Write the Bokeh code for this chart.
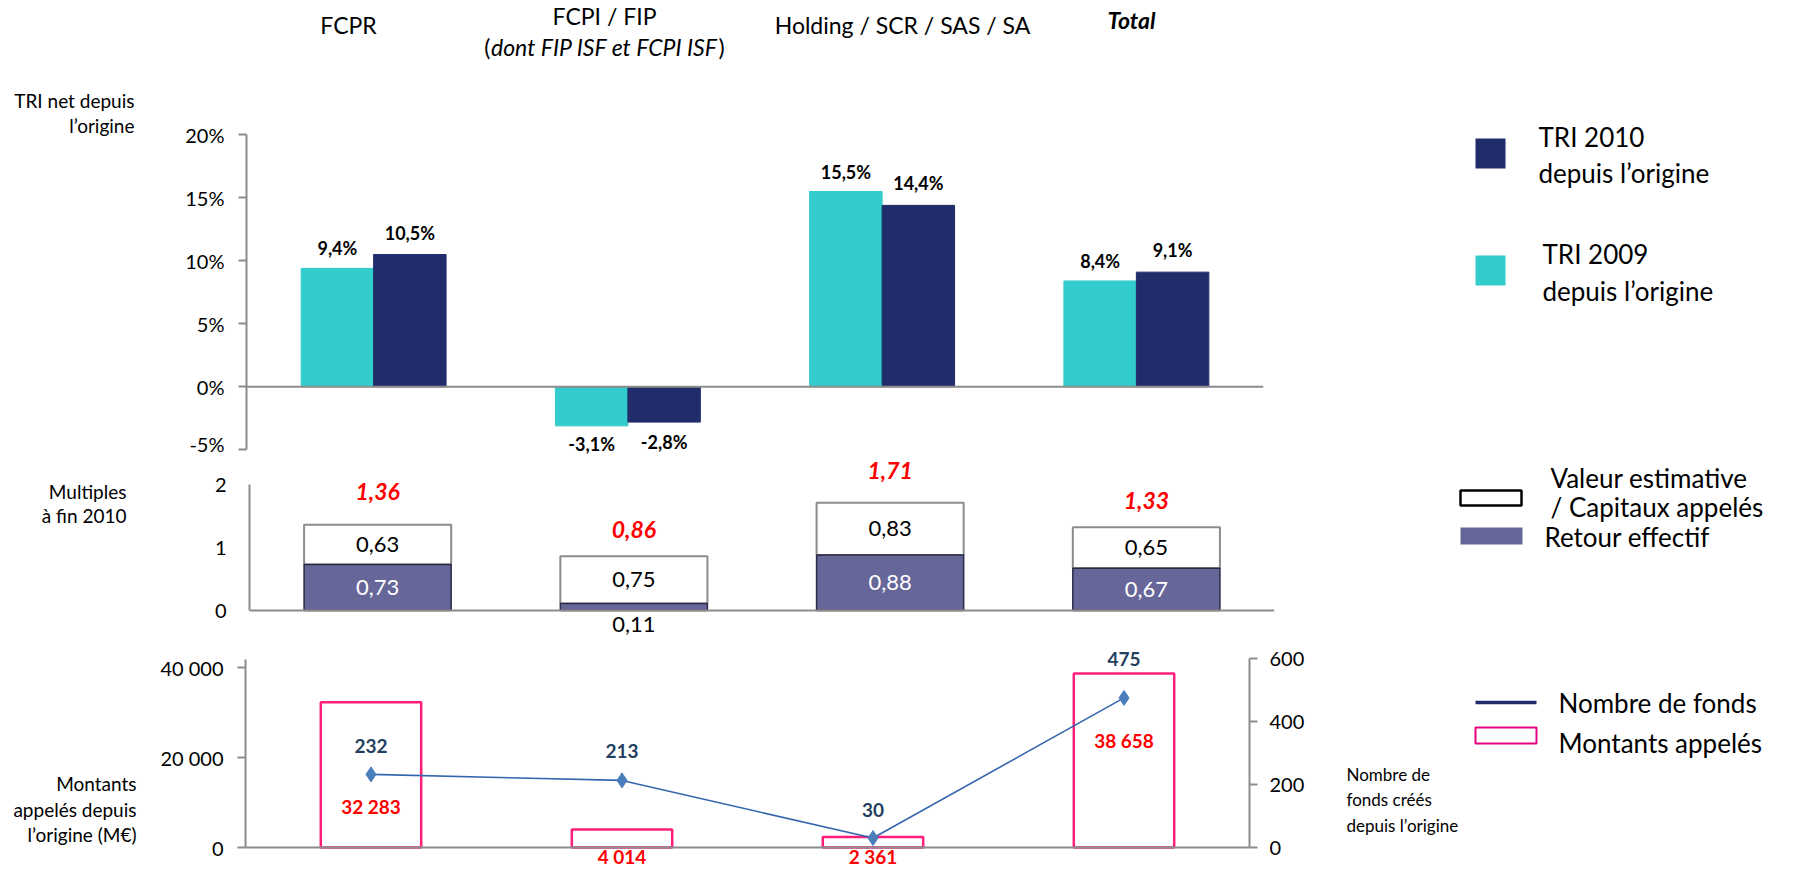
from bokeh.plotting import figure
from bokeh.models import (FactorRange, Range1d, LinearAxis, FixedTicker, CustomJSTickFormatter,
                          Span, Label, ColumnDataSource)
from bokeh.transform import dodge
from bokeh.layouts import column, row
from bokeh.embed import file_html
from bokeh.resources import INLINE
from bokeh.core.properties import value

# ---------------- data ----------------
categories = ["FCPR", "FCPI / FIP", "Holding / SCR / SAS / SA", "Total"]
tri_2009 = [9.4, -3.1, 15.5, 8.4]
tri_2010 = [10.5, -2.8, 14.4, 9.1]
tri_ticks = [-5, 0, 5, 10, 15, 20]

retour_effectif = [0.73, 0.11, 0.88, 0.67]
valeur_estimative = [0.63, 0.75, 0.83, 0.65]
multiple_total = [1.36, 0.86, 1.71, 1.33]
mult_ticks = [0, 1, 2]

montants_appeles = [32283, 4014, 2361, 38658]
nombre_fonds = [232, 213, 30, 475]
montant_ticks = [0, 20000, 40000]
fonds_ticks = [0, 200, 400, 600]

# ---------------- style ----------------
FONT = "Lato"
CYAN = "#33CCCC"
NAVY = "#212D6B"
PURPLE = "#666699"
PINK = "#FF1F7A"
RED = "#FF0000"
AXIS_GREY = "#8C8C8C"

# page geometry (pixels from the page's top-left corner)
LEFT_X0, LEFT_X1 = 8, 158        # caption column
CHART_X1 = 1340                  # chart column ends here
LEG_X1 = 1789                    # legend column ends here
ROWS = [(8, 463), (463, 647), (647, 878)]


def fr_num(v, nd):
    return f"{v:.{nd}f}".replace(".", ",")


def fr_int(v):
    return f"{v:,}".replace(",", " ")


def make_panel(x0, x1, y_top, y_bot):
    p = figure(width=x1 - x0, height=y_bot - y_top, x_range=Range1d(x0, x1),
               y_range=Range1d(y_bot, y_top), x_axis_location=None, y_axis_location=None,
               toolbar_location=None, output_backend="svg", min_border=0)
    p.outline_line_color = None
    p.xgrid.visible = False
    p.ygrid.visible = False
    p.background_fill_color = "white"
    p.border_fill_color = "white"
    return p


def make_chart(rowi, L, R, zero_py, units_per_px):
    T, B = ROWS[rowi]
    yr = Range1d(-(B - zero_py) * units_per_px, (zero_py - T) * units_per_px)
    p = figure(width=CHART_X1 - LEFT_X1, height=B - T,
               x_range=FactorRange(factors=categories, range_padding=0, factor_padding=0),
               y_range=yr, x_axis_location=None, y_axis_location="left",
               toolbar_location=None, output_backend="svg",
               min_border_left=L - LEFT_X1, min_border_right=CHART_X1 - R,
               min_border_top=0, min_border_bottom=0)
    p.outline_line_color = None
    p.xgrid.visible = False
    p.ygrid.visible = False
    p.background_fill_color = "white"
    p.border_fill_color = "white"
    n = float(len(categories))

    def fx(px):
        return (px - L) / (R - L) * n

    def fy(py):
        return yr.end - (py - T) / (B - T) * (yr.end - yr.start)
    return p, fx, fy


def style_axis(ax, tick_out=8, standoff=10, size="20px"):
    ax.axis_line_color = AXIS_GREY
    ax.axis_line_width = 2
    ax.major_tick_line_color = AXIS_GREY
    ax.major_tick_line_width = 2
    ax.major_tick_out = tick_out
    ax.major_tick_in = 0
    ax.minor_tick_line_color = None
    ax.major_label_text_font = FONT
    ax.major_label_text_font_size = size
    ax.major_label_text_color = "black"
    ax.major_label_standoff = standoff


def ptext(p, xs, ys, texts, size, align="left", style="normal", color="black"):
    p.text(x=xs, y=ys, text=texts, text_font=value(FONT), text_font_size=size,
           text_align=align, text_baseline="middle", text_font_style=style, text_color=color)


def label(p, x, y, text, size, align="center", style="normal", color="black"):
    p.add_layout(Label(x=x, y=y, text=text, text_font=FONT, text_font_size=size,
                       text_align=align, text_baseline="middle", text_font_style=style,
                       text_color=color))


# ================= Chart 1 : TRI =================
p1, fx1, fy1 = make_chart(0, 254, 1271, 394.3, 1 / 12.6)
ax = p1.yaxis[0]
ax.ticker = FixedTicker(ticks=tri_ticks)
ax.bounds = (min(tri_ticks), max(tri_ticks))
ax.formatter = CustomJSTickFormatter(code="return tick + '%';")
style_axis(ax, tick_out=8, standoff=14)
p1.add_layout(Span(location=0, dimension="width", line_color=AXIS_GREY, line_width=2))

BW1 = 0.285
src1 = ColumnDataSource(dict(
    cat=categories, t09=tri_2009, t10=tri_2010,
    l09=[fr_num(v, 1) + "%" for v in tri_2009], l10=[fr_num(v, 1) + "%" for v in tri_2010],
    o09=[-20 if v >= 0 else 18 for v in tri_2009], o10=[-22 if v >= 0 else 20 for v in tri_2010]))
p1.vbar(x=dodge("cat", -BW1 / 2, range=p1.x_range), top="t09", bottom=0, width=BW1,
        source=src1, fill_color=CYAN, line_color=CYAN)
p1.vbar(x=dodge("cat", BW1 / 2, range=p1.x_range), top="t10", bottom=0, width=BW1,
        source=src1, fill_color=NAVY, line_color=NAVY)
for col, lab, off, dx in (("t09", "l09", "o09", -BW1 / 2), ("t10", "l10", "o10", BW1 / 2)):
    p1.text(x=dodge("cat", dx, range=p1.x_range), y=col, text=lab, y_offset=off, source=src1,
            text_align="center", text_baseline="middle", text_font=value(FONT),
            text_font_style="bold", text_font_size="18px", text_color="black")

# category titles (above the chart, inside its frame)
label(p1, fx1(356), fy1(32), categories[0], "23px")
label(p1, fx1(612), fy1(23), categories[1], "23px")
ITW = 228
label(p1, fx1(612), fy1(54), "dont FIP ISF et FCPI ISF", "23px", style="italic")
label(p1, fx1(612 - ITW / 2), fy1(54), "(", "23px", align="right")
label(p1, fx1(612 + ITW / 2), fy1(54), ")", "23px", align="left")
label(p1, fx1(910), fy1(32), categories[2], "23px")
label(p1, fx1(1139), fy1(27), categories[3], "23px", style="bold italic")

# ================= Chart 2 : Multiples =================
p2, fx2, fy2 = make_chart(1, 257, 1282, 618, 1 / 63)
ax = p2.yaxis[0]
ax.ticker = FixedTicker(ticks=mult_ticks)
ax.bounds = (min(mult_ticks), max(mult_ticks))
style_axis(ax, tick_out=0, standoff=23)
p2.add_layout(Span(location=0, dimension="width", line_color=AXIS_GREY, line_width=2))

BW2 = 0.574
total_lift = [33, 27, 32, 27]
tops = [a + b for a, b in zip(retour_effectif, valeur_estimative)]
src2 = ColumnDataSource(dict(
    cat=categories, ret=retour_effectif, val=valeur_estimative, top=tops,
    val_mid=[a + b / 2 for a, b in zip(retour_effectif, valeur_estimative)],
    val_lab=[fr_num(v, 2) for v in valeur_estimative],
    ret_y=[a / 2 if a >= 0.3 else 0 for a in retour_effectif],
    ret_off=[0 if a >= 0.3 else 14 for a in retour_effectif],
    ret_col=["white" if a >= 0.3 else "black" for a in retour_effectif],
    ret_lab=[fr_num(v, 2) for v in retour_effectif],
    tot_lab=[fr_num(v, 2) for v in multiple_total],
    tot_off=[-v for v in total_lift]))
p2.vbar(x="cat", bottom="ret", top="top", width=BW2, source=src2,
        fill_color="white", line_color=AXIS_GREY, line_width=2)
p2.vbar(x="cat", bottom=0, top="ret", width=BW2, source=src2,
        fill_color=PURPLE, line_color="#2A2A45", line_width=1.5)
p2.text(x="cat", y="val_mid", text="val_lab", source=src2, text_align="center",
        text_baseline="middle", text_font=value(FONT), text_font_size="22px", text_color="black")
p2.text(x="cat", y="ret_y", text="ret_lab", y_offset="ret_off", source=src2, text_align="center",
        text_baseline="middle", text_font=value(FONT), text_font_size="22px", text_color="ret_col")
p2.text(x="cat", y="top", text="tot_lab", y_offset="tot_off", source=src2, text_align="center",
        text_baseline="middle", text_font=value(FONT), text_font_size="23px",
        text_font_style="bold italic", text_color=RED)

# ================= Chart 3 : Montants / Nombre de fonds =================
upp_m = 20000 / 90
upp_f = 200 / 63
p3, fx3, fy3 = make_chart(2, 253, 1257, 855, upp_m)
T3, B3 = ROWS[2]
p3.extra_y_ranges = {"fonds": Range1d(-(B3 - 855) * upp_f, (855 - T3) * upp_f)}
ax = p3.yaxis[0]
ax.ticker = FixedTicker(ticks=montant_ticks)
ax.bounds = (0, 41800)
ax.formatter = CustomJSTickFormatter(
    code="return tick.toString().replace(/\\B(?=(\\d{3})+(?!\\d))/g, ' ');")
style_axis(ax, tick_out=8, standoff=14)
rax = LinearAxis(y_range_name="fonds", ticker=FixedTicker(ticks=fonds_ticks),
                 bounds=(min(fonds_ticks), max(fonds_ticks)))
style_axis(rax, tick_out=8, standoff=12, size="20px")
p3.add_layout(rax, "right")
p3.add_layout(Span(location=0, dimension="width", line_color=AXIS_GREY, line_width=2))

BW3 = 0.4
montant_drop = [104, 27, 20, 67]
fonds_lift = [28, 29, 28, 39]
src3 = ColumnDataSource(dict(
    cat=categories, mont=montants_appeles, fonds=nombre_fonds,
    mont_lab=[fr_int(v) for v in montants_appeles], fonds_lab=[str(v) for v in nombre_fonds],
    drop=montant_drop, lift=[-v for v in fonds_lift]))
p3.vbar(x="cat", bottom=0, top="mont", width=BW3, source=src3,
        fill_color=None, line_color=PINK, line_width=2.5)
p3.line(x="cat", y="fonds", source=src3, y_range_name="fonds", line_color="#3466AE", line_width=1.6)
p3.scatter(x="cat", y="fonds", source=src3, y_range_name="fonds", marker="diamond", size=15,
           fill_color="#4A7EBB", line_color="#4A7EBB")
p3.text(x="cat", y="fonds", text="fonds_lab", y_offset="lift", source=src3, y_range_name="fonds",
        text_align="center", text_baseline="middle", text_font=value(FONT),
        text_font_style="bold", text_font_size="19px", text_color="#243F60")
p3.text(x="cat", y="mont", text="mont_lab", y_offset="drop", source=src3,
        text_align="center", text_baseline="middle", text_font=value(FONT),
        text_font_style="bold", text_font_size="19px", text_color=RED)

# ================= caption column (left) =================
c1 = make_panel(LEFT_X0, LEFT_X1, *ROWS[0])
ptext(c1, [142, 142], [108, 133], ["TRI net depuis", "l’origine"], "19px", align="right")
c2 = make_panel(LEFT_X0, LEFT_X1, *ROWS[1])
ptext(c2, [134, 134], [499, 523], ["Multiples", "à fin 2010"], "19px", align="right")
c3 = make_panel(LEFT_X0, LEFT_X1, *ROWS[2])
ptext(c3, [144, 144, 144], [791, 817, 842],
      ["Montants", "appelés depuis", "l’origine (M€)"], "19px", align="right")

# ================= legend column (right) =================
g1 = make_panel(CHART_X1, LEG_X1, *ROWS[0])
g1.quad(left=[1483], right=[1513], top=[146], bottom=[176], fill_color=NAVY, line_color=None)
g1.quad(left=[1483], right=[1513], top=[263], bottom=[293], fill_color=CYAN, line_color=None)
ptext(g1, [1546, 1546], [144, 180], ["TRI 2010", "depuis l’origine"], "26px")
ptext(g1, [1550, 1550], [261, 298], ["TRI 2009", "depuis l’origine"], "26px")

g2 = make_panel(CHART_X1, LEG_X1, *ROWS[1])
g2.quad(left=[1468], right=[1529], top=[498], bottom=[513], fill_color="white",
        line_color="black", line_width=2.5)
g2.quad(left=[1468], right=[1530], top=[535], bottom=[552], fill_color=PURPLE, line_color=None)
ptext(g2, [1558, 1558], [485, 514], ["Valeur estimative", "/ Capitaux  appelés"], "26px")
ptext(g2, [1552], [544], ["Retour effectif"], "26px")

g3 = make_panel(CHART_X1, LEG_X1, *ROWS[2])
g3.segment(x0=[1483], x1=[1544], y0=[710], y1=[710], line_color="#1F2A6B", line_width=3.5)
g3.quad(left=[1483], right=[1544], top=[735], bottom=[751], fill_color="white",
        line_color="#E6007E", line_width=2)
ptext(g3, [1566, 1566], [710, 750], ["Nombre de fonds", "Montants appelés"], "26px")
ptext(g3, [1354, 1354, 1354], [782, 807, 833],
      ["Nombre de", "fonds créés", "depuis l’origine"], "17px")

layout = column(row(c1, p1, g1, spacing=0),
                row(c2, p2, g2, spacing=0),
                row(c3, p3, g3, spacing=0), spacing=0)
open("out.html", "w").write(file_html(layout, INLINE))
